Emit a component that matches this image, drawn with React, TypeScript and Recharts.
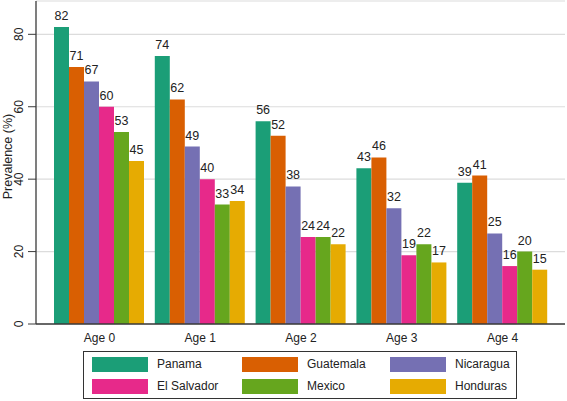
import React from 'react';
import { BarChart, Bar, XAxis, YAxis, CartesianGrid, LabelList, Legend, Label } from 'recharts';

const categories = ['Age 0', 'Age 1', 'Age 2', 'Age 3', 'Age 4'];
const panama = [82, 74, 56, 43, 39];
const guatemala = [71, 62, 52, 46, 41];
const nicaragua = [67, 49, 38, 32, 25];
const elSalvador = [60, 40, 24, 19, 16];
const mexico = [53, 33, 24, 22, 20];
const honduras = [45, 34, 22, 17, 15];
const seriesNames = ['Panama', 'Guatemala', 'Nicaragua', 'El Salvador', 'Mexico', 'Honduras'];
const seriesValues = [panama, guatemala, nicaragua, elSalvador, mexico, honduras];
const colors = ['#1B9E77', '#D95F02', '#7570B3', '#E7298A', '#66A61E', '#E6AB02'];
const yTicks = [0, 20, 40, 60, 80];

const data = categories.map((c, i) => {
  const row: any = { category: c };
  seriesNames.forEach((s, j) => {
    row[s] = seriesValues[j][i];
  });
  return row;
});

const FONT = '"Liberation Sans", Arial, Helvetica, sans-serif';
const AXIS = '#3a3a3a';

const YTick = (props: any) => {
  const { x, y, payload } = props;
  return (
    <text transform={`translate(${x - 3},${y}) rotate(-90)`} textAnchor="middle" fontSize={12} fill="#222">
      {payload.value}
    </text>
  );
};

const legendOrder = [
  ['Panama', 'Guatemala', 'Nicaragua'],
  ['El Salvador', 'Mexico', 'Honduras'],
];
const colLeft = [8, 158, 306];

const renderLegend = () => (
  <div
    style={{
      position: 'relative',
      width: 434,
      height: 48,
      border: '1px solid #333',
      boxSizing: 'border-box',
      fontFamily: FONT,
      fontSize: 12,
      color: '#222',
      background: '#fff',
    }}
  >
    {legendOrder.map((row, r) =>
      row.map((name, c) => {
        const idx = seriesNames.indexOf(name);
        const top = r === 0 ? 5 : 27;
        return (
          <React.Fragment key={name}>
            <div
              style={{
                position: 'absolute',
                left: colLeft[c],
                top,
                width: 56,
                height: 15,
                background: colors[idx],
              }}
            />
            <div
              style={{
                position: 'absolute',
                left: colLeft[c] + 65,
                top: top,
                height: 15,
                lineHeight: '15px',
                whiteSpace: 'nowrap',
              }}
            >
              {name}
            </div>
          </React.Fragment>
        );
      })
    )}
  </div>
);

export default function App() {
  return (
    <div style={{ position: 'absolute', left: 0, top: 0, width: 567, height: 401, background: '#fff', fontFamily: FONT }}>
      <BarChart
        width={567}
        height={401}
        data={data}
        margin={{ top: 1, right: 2, bottom: 53, left: 0 }}
        barCategoryGap={5}
        barGap={0}
      >
        <CartesianGrid vertical={false} stroke="#dcdcdc" strokeWidth={1.2} />
        <XAxis
          dataKey="category"
          padding={{ left: 13, right: 12 }}
          tickLine={false}
          tickSize={7}
          height={24}
          tick={{ fontSize: 12, fill: '#222' }}
          axisLine={{ stroke: AXIS, strokeWidth: 1.3 }}
          interval={0}
        />
        <XAxis
          xAxisId="top"
          orientation="top"
          dataKey="category"
          height={0}
          tick={false}
          tickLine={false}
          axisLine={{ stroke: AXIS, strokeWidth: 1.3 }}
        />
        <YAxis
          width={36}
          domain={[0, 89.2]}
          ticks={yTicks}
          allowDataOverflow
          tickSize={8}
          tick={<YTick />}
          tickLine={{ stroke: AXIS }}
          axisLine={{ stroke: AXIS, strokeWidth: 1.3 }}
        >
          <Label
            content={(p: any) => {
              const vb = p.viewBox || { y: 1, height: 323 };
              const cy = vb.y + vb.height / 2 - 6;
              return (
                <text transform={`translate(11.5,${cy}) rotate(-90)`} textAnchor="middle" fontSize={12.5} fill="#222">
                  Prevalence (%)
                </text>
              );
            }}
          />
        </YAxis>
        <YAxis
          yAxisId="right"
          orientation="right"
          width={0}
          tick={false}
          tickLine={false}
          axisLine={{ stroke: AXIS, strokeWidth: 1.3 }}
        />
        {seriesNames.map((s, j) => (
          <Bar key={s} dataKey={s} fill={colors[j]} isAnimationActive={false}>
            <LabelList dataKey={s} position="top" offset={7} fontSize={12.5} fill="#222" />
          </Bar>
        ))}
        <Legend
          layout="horizontal"
          verticalAlign="middle"
          align="center"
          wrapperStyle={{ left: 83, top: 351, width: 434, height: 48 }}
          content={renderLegend}
        />
      </BarChart>
    </div>
  );
}
